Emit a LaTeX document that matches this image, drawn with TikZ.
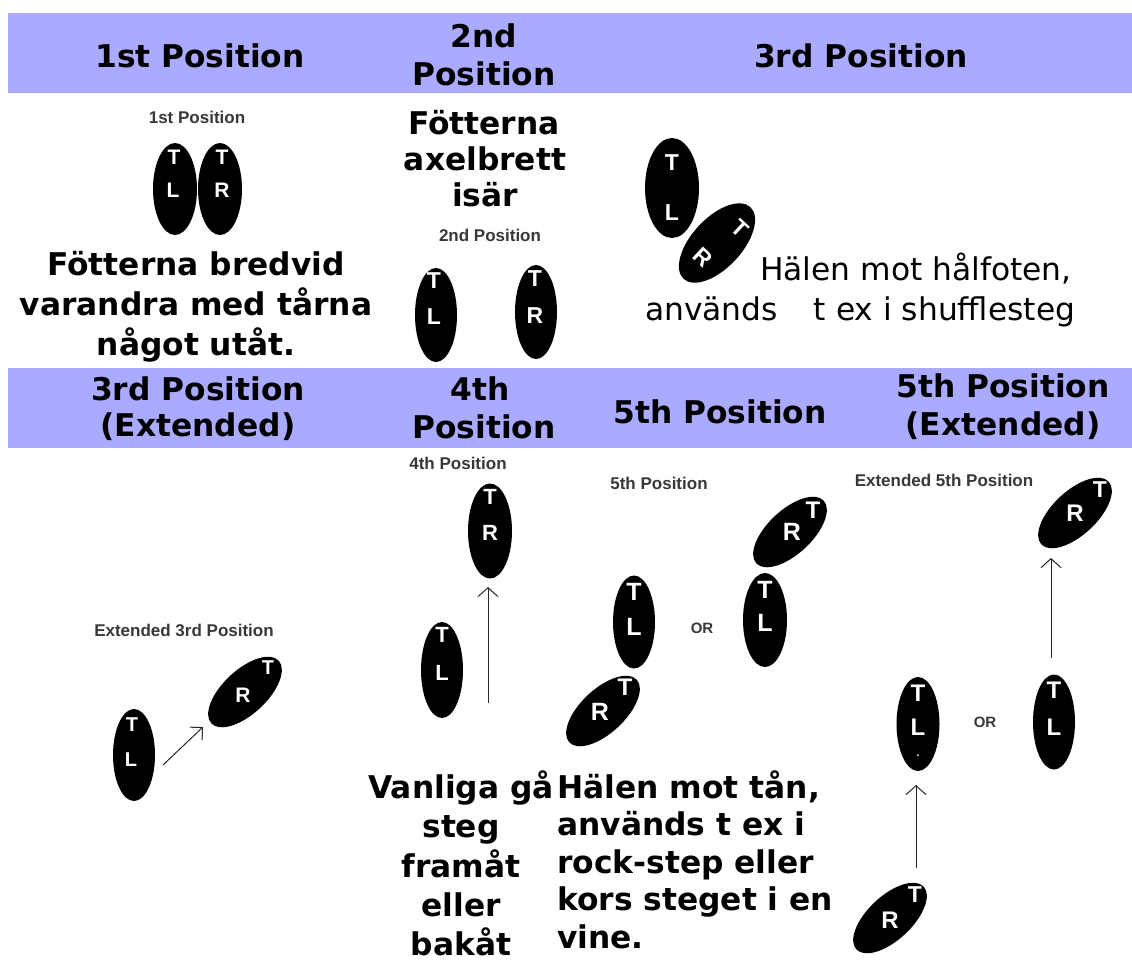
\documentclass[tikz,border=0pt]{standalone}
\usepackage{fontspec}
\setmainfont{DejaVu Sans}
\newfontfamily\capfont{Liberation Sans}
\usetikzlibrary{shapes.geometric,arrows.meta}
\definecolor{bandblue}{RGB}{170,170,255}
\tikzset{
  head/.style={font=\bfseries\fontsize{31.3}{36}\selectfont, anchor=base, inner sep=0},
  txt/.style={font=\bfseries\fontsize{31.3}{36}\selectfont, anchor=base, inner sep=0},
  txtl/.style={font=\bfseries\fontsize{31.3}{36}\selectfont, anchor=base west, inner sep=0},
  plain/.style={font=\fontsize{31.3}{36}\selectfont, anchor=base west, inner sep=0},
  caption/.style={font=\capfont\bfseries\fontsize{17}{17}\selectfont, text=black!78, inner sep=0},
  orlabel/.style={font=\capfont\bfseries\fontsize{15}{15}\selectfont, text=black!78, inner sep=0},
  foot/.style={ellipse, fill=black, inner sep=0, minimum width=43pt, minimum height=94pt},
  sfoot/.style={ellipse, fill=black, inner sep=0, minimum width=92pt, minimum height=44pt, rotate=43},
  ltr/.style={font=\capfont\bfseries\fontsize{#1}{#1}\selectfont, text=white, inner sep=0},
  ltr/.default=23,
  steparrow/.style={draw=black!85, line width=1pt, -{Straight Barb[length=9pt,width=20pt]}}
}
\begin{document}
\begin{tikzpicture}[x=1pt,y=-1pt]
\useasboundingbox (0,0) rectangle (1132,962);
\fill[white] (0,0) rectangle (1132,962);

% header bands
\fill[bandblue] (8,13) rectangle (1132,93);
\fill[bandblue] (8,368) rectangle (1132,448);

% header texts, first row
\node[head] (h1) at (200,67) {1st Position};
\node[head] (h2a) at (484,47) {2nd};
\node[head] (h2b) at (484,85) {Position};
\node[head] (h3) at (861,67) {3rd Position};
% header texts, second row
\node[head] (h4a) at (198,400) {3rd Position};
\node[head] (h4b) at (198,436) {(Extended)};
\node[head] (h5a) at (480,400) {4th};
\node[head] (h5b) at (484,438) {Position};
\node[head] (h6) at (720,423) {5th Position};
\node[head] (h7a) at (1003,397) {5th Position};
\node[head] (h7b) at (1003,435) {(Extended)};

% descriptions
\node[txt] (d1a) at (196,275) {Fötterna bredvid};
\node[txt] (d1b) at (196,315) {varandra med tårna};
\node[txt] (d1c) at (196,355) {något utåt.};
\node[txt] (d2a) at (484,134) {Fötterna};
\node[txt] (d2b) at (485,170) {axelbrett};
\node[txt] (d2c) at (485,206) {isär};
\node[plain] (d3a) at (760,280) {Hälen mot hålfoten,};
\node[plain] (d3b) at (645,320) {används\hspace{26pt} t ex i shufflesteg};
\node[txt] (d5a) at (461,798) {Vanliga gå};
\node[txt] (d5b) at (461,837.5) {steg};
\node[txt] (d5c) at (461,877) {framåt};
\node[txt] (d5d) at (461,916) {eller};
\node[txt] (d5e) at (461,955) {bakåt};
\node[txtl] (d6a) at (557,798) {Hälen mot tån,};
\node[txtl] (d6b) at (557,835.5) {används t ex i};
\node[txtl] (d6c) at (557,873) {rock-step eller};
\node[txtl] (d6d) at (557,910.5) {kors steget i en};
\node[txtl] (d6e) at (557,948) {vine.};

% small picture captions
\node[caption] (c1) at (197,117) {1st Position};
\node[caption] (c2) at (490,235) {2nd Position};
\node[caption] (c4) at (184,630) {Extended 3rd Position};
\node[caption] (c5) at (458,463) {4th Position};
\node[caption] (c6) at (659,483) {5th Position};
\node[caption] (c7) at (944,480) {Extended 5th Position};
\node[orlabel] (or1) at (702,628) {OR};
\node[orlabel] (or2) at (985,722) {OR};

% 1st position
\node[foot, minimum width=44pt, minimum height=92pt] (p1l) at (175,189) {};
\node[foot, minimum width=44pt, minimum height=92pt] (p1r) at (220,189) {};
\node[ltr=21] (p1lt) at (174,157) {T};
\node[ltr=21] (p1ll) at (173,190) {L};
\node[ltr=21] (p1rt) at (222,157) {T};
\node[ltr=21] (p1rr) at (222,190) {R};

% 2nd position
\node[foot, minimum width=42pt] (p2l) at (436,315) {};
\node[foot, minimum width=42pt] (p2r) at (536,312) {};
\node[ltr] (p2lt) at (434,281) {T};
\node[ltr] (p2ll) at (434,317) {L};
\node[ltr] (p2rt) at (535,279) {T};
\node[ltr] (p2rr) at (535,316) {R};

% 3rd position
\node[foot, minimum width=54pt, minimum height=100pt] (p3l) at (672,188) {};
\node[ltr] (p3lt) at (672,163) {T};
\node[ltr] (p3ll) at (672,213) {L};
\node[ellipse, fill=black, inner sep=0, minimum width=98pt, minimum height=50pt, rotate=47] (p3r) at (717,243) {};
\node[ltr, rotate=-43] (p3rt) at (740,228) {T};
\node[ltr, rotate=-43] (p3rr) at (703,257) {R};

% extended 3rd position
\node[foot, minimum width=42pt, minimum height=92pt] (e3l) at (134,755) {};
\node[ltr=20] (e3lt) at (132,725) {T};
\node[ltr=20] (e3ll) at (131,760) {L};
\node[sfoot] (e3r) at (245,692) {};
\node[ltr=21] (e3rr) at (243,695) {R};
\node[ltr=20] (e3rt) at (268,668) {T};
\coordinate (e3a) at (163,765);
\coordinate (e3b) at (203,727);
\draw[steparrow, -{Straight Barb[length=9pt,width=18pt]}] (e3a) -- (e3b);

% 4th position
\node[foot, minimum width=44pt, minimum height=95pt] (p4r) at (490,531) {};
\node[ltr=22] (p4rt) at (490,497) {T};
\node[ltr=22] (p4rr) at (490,533) {R};
\node[foot, minimum width=42pt, minimum height=96pt] (p4l) at (442,670) {};
\node[ltr=22] (p4lt) at (442,635) {T};
\node[ltr=22] (p4ll) at (442,673) {L};
\coordinate (p4a) at (488,703);
\coordinate (p4b) at (488,587);
\draw[steparrow] (p4a) -- (p4b);

% 5th position
\node[foot, minimum width=42pt, minimum height=93pt] (p5l1) at (634,622) {};
\node[ltr=25] (p5l1t) at (634,592) {T};
\node[ltr=25] (p5l1l) at (634,627) {L};
\node[sfoot] (p5r1) at (603,711) {};
\node[ltr=25] (p5r1r) at (600,712) {R};
\node[ltr=24] (p5r1t) at (625,687) {T};
\node[foot, minimum width=44pt, minimum height=94pt] (p5l2) at (765,620) {};
\node[ltr=25] (p5l2t) at (765,590) {T};
\node[ltr=25] (p5l2l) at (765,623) {L};
\node[sfoot] (p5r2) at (790,532) {};
\node[ltr=25] (p5r2r) at (792,532) {R};
\node[ltr=24] (p5r2t) at (813,510) {T};

% extended 5th position
\node[sfoot] (x5r1) at (1075,513) {};
\node[ltr=24] (x5r1r) at (1075,513) {R};
\node[ltr=23] (x5r1t) at (1100,490) {T};
\coordinate (x5a) at (1051,658);
\coordinate (x5b) at (1051,558);
\draw[steparrow] (x5a) -- (x5b);
\node[foot] (x5l1) at (918,724) {};
\node[ltr=24] (x5l1t) at (918,693) {T};
\node[ltr=24] (x5l1l) at (918,727) {L};
\node[circle, fill=white, inner sep=0, minimum size=2pt] (x5dot) at (918,755) {};
\node[foot, minimum width=42pt, minimum height=95pt] (x5l2) at (1054,722) {};
\node[ltr=24] (x5l2t) at (1054,690) {T};
\node[ltr=24] (x5l2l) at (1054,727) {L};
\coordinate (x5c) at (916,868);
\coordinate (x5d) at (916,785);
\draw[steparrow] (x5c) -- (x5d);
\node[sfoot] (x5r2) at (890,918) {};
\node[ltr=24] (x5r2r) at (890,920) {R};
\node[ltr=23] (x5r2t) at (915,895) {T};
\end{tikzpicture}
\end{document}
